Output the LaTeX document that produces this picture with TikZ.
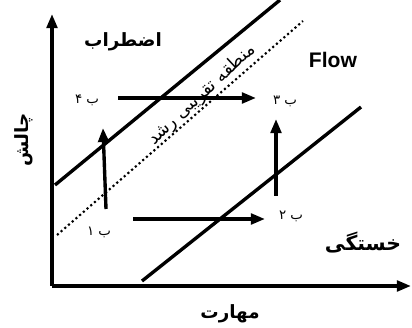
\documentclass[tikz,border=0pt]{standalone}
\usepackage{fontspec}
\setmainfont{Liberation Sans}
\newfontfamily\arabicfont[Script=Arabic]{DejaVu Sans}
\TeXXeTstate=1
\usetikzlibrary{arrows.meta}
\tikzset{
  thickline/.style={line width=2.4pt,line cap=butt},
  zone/.style={line width=1.5pt,dotted},
  move/.style={line width=2.4pt,-{Triangle[length=10pt,width=7.5pt]}},
  fa/.style={font=\arabicfont\bfseries\fontsize{13}{15}\selectfont,inner sep=0pt},
  pt/.style={font=\arabicfont\fontsize{9.5}{11}\selectfont,inner sep=0pt}
}

\begin{document}
\begin{tikzpicture}[x=0.025cm,y=0.025cm]
\useasboundingbox (0,0) rectangle (412,327);
% axes
\coordinate (O) at (52,41);\coordinate (ytop) at (52,313);\coordinate (xend) at (411,41);
\draw[move] (O)--(ytop);\draw[move] (O)--(xend);
% zone borders
\draw[thickline] (55,142)--(280,327);\draw[zone] (57,92)--(303,306);\draw[thickline] (142,46)--(361,220);
% points
\coordinate (b1s) at (106,118);\coordinate (b1e) at (103,199);
\coordinate (b4s) at (118,229);\coordinate (b4e) at (256,229);
\coordinate (b2s) at (133,108);\coordinate (b2e) at (265,108);
\coordinate (b3s) at (276,131);\coordinate (b3e) at (276,208);
\draw[move] (b1s)--(b1e);\draw[move] (b4s)--(b4e);\draw[move] (b2s)--(b2e);\draw[move] (b3s)--(b3e);
\node[pt] (p1) at (99,95){\beginR ب ۱\endR};\node[pt] (p2) at (291,111){\beginR ب ۲\endR};
\node[pt] (p3) at (285,226){\beginR ب ۳\endR};\node[pt] (p4) at (87,227){\beginR ب ۴\endR};
% labels
\node[fa] (anx) at (123,285){\beginR اضطراب\endR};\node[font=\bfseries\fontsize{15}{17}\selectfont] (flow) at (333,267){Flow};
\node[fa,font=\arabicfont\bfseries\fontsize{14.5}{16}\selectfont] (bore) at (363,84){\beginR خستگی\endR};\node[fa] (skill) at (230,13){\beginR مهارت\endR};
\node[fa,rotate=90] (chal) at (24,187){\beginR چالش\endR};
\node[pt,font=\arabicfont\fontsize{12.5}{14}\selectfont,rotate=43] (zpd) at (202,232){\beginR منطقه تقریبی رشد\endR};
\end{tikzpicture}
\end{document}
